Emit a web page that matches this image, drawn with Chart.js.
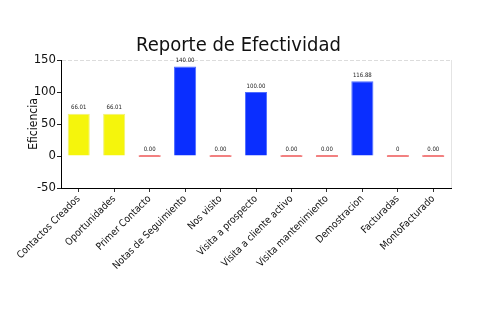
<!DOCTYPE html>
<html>
<head>
<meta charset="utf-8">
<script src="https://cdn.jsdelivr.net/npm/chart.js@4/dist/chart.umd.min.js"></script>
<style>
  html, body { margin: 0; padding: 0; background: #fff; }
  #wrap { width: 500px; height: 330px; }
</style>
</head>
<body>
<div id="wrap"><canvas id="c" width="500" height="330"></canvas></div>
<script>
// Categories of the effectiveness report
const categories = [
  "Contactos Creados", "Oportunidades", "Primer Contacto", "Notas de Seguimiento",
  "Nos visito", "Visita a prospecto", "Visita a cliente activo", "Visita mantenimiento",
  "Demostracion", "Facturadas", "MontoFacturado"
];
// Value captions shown above each bar; bar heights come from the same text
const valueText = ["66.01", "66.01", "0.00", "140.00", "0.00", "100.00", "0.00", "0.00", "116.88", "0", "0.00"];
const values = valueText.map(Number);
// Colour group per bar: low / high / empty
const groups = ["low", "low", "zero", "high", "zero", "high", "zero", "zero", "high", "zero", "zero"];

const fills = { low: "#f5f50c", high: "#0a2eff", zero: "#f28080" };
const edges = { low: "#f0f07a", high: "#4f6dff", zero: "#f28080" };

const FONT = "'DejaVu Sans Condensed', 'Liberation Sans Narrow', sans-serif";

// Draws the value caption above every bar
const valueCaptions = {
  id: "valueCaptions",
  afterDatasetsDraw(chart) {
    const { ctx } = chart;
    const meta = chart.getDatasetMeta(0);
    ctx.save();
    ctx.font = "6px " + FONT;
    ctx.fillStyle = "#222";
    ctx.textAlign = "center";
    ctx.textBaseline = "bottom";
    meta.data.forEach((bar, i) => {
      const top = Math.min(bar.y, bar.base);
      ctx.fillText(valueText[i], bar.x, top - 3);
    });
    ctx.restore();
  }
};

// Light frame line along the right edge of the plot
const rightEdge = {
  id: "rightEdge",
  beforeDatasetsDraw(chart) {
    const { ctx, chartArea: a } = chart;
    ctx.save();
    ctx.strokeStyle = "#e4e4e4";
    ctx.lineWidth = 1;
    ctx.beginPath();
    ctx.moveTo(a.right + 0.5, a.top);
    ctx.lineTo(a.right + 0.5, a.bottom);
    ctx.stroke();
    ctx.restore();
  }
};

new Chart(document.getElementById("c"), {
  type: "bar",
  data: {
    labels: categories,
    datasets: [{
      label: "Eficiencia",
      data: values,
      backgroundColor: groups.map(g => fills[g]),
      borderColor: groups.map(g => edges[g]),
      borderWidth: 1,
      minBarLength: 2,
      categoryPercentage: 0.8,
      barPercentage: 0.78
    }]
  },
  options: {
    responsive: false,
    animation: false,
    devicePixelRatio: 1,
    layout: { padding: { top: 6, right: 49, bottom: 0, left: 26 } },
    plugins: {
      legend: { display: false },
      tooltip: { enabled: false },
      title: {
        display: true,
        text: "Reporte de Efectividad",
        color: "#111",
        font: { family: FONT, size: 20, weight: "normal" },
        padding: { top: 28, bottom: 2 }
      }
    },
    scales: {
      x: {
        afterFit: s => { s.height = 142; },
        border: { color: "#000", width: 1 },
        grid: { offset: false, drawOnChartArea: false, tickLength: 4, tickColor: "#333" },
        ticks: {
          color: "#111",
          maxRotation: 45, minRotation: 45,
          autoSkip: false,
          padding: 1,
          font: { family: FONT, size: 10 }
        }
      },
      y: {
        min: -50, max: 150,
        afterFit: s => { s.width = 35; },
        border: { color: "#000", width: 1, dash: [4, 2] },
        title: {
          display: true, text: "Eficiencia", color: "#111",
          font: { family: FONT, size: 12 }, padding: 1
        },
        grid: {
          color: c => c.tick && c.tick.value === 150 ? "#dcdcdc" : "rgba(0,0,0,0)",
          tickColor: c => c.tick && c.tick.value % 50 !== 0 ? "#e03030" : "#222",
          tickLength: 4,
          drawOnChartArea: true
        },
        ticks: {
          stepSize: 25,
          color: "#111",
          padding: 1,
          font: { family: FONT, size: 13 },
          callback: v => (v % 50 === 0 ? String(v) : "")
        }
      }
    }
  },
  plugins: [valueCaptions, rightEdge]
});
</script>
</body>
</html>
